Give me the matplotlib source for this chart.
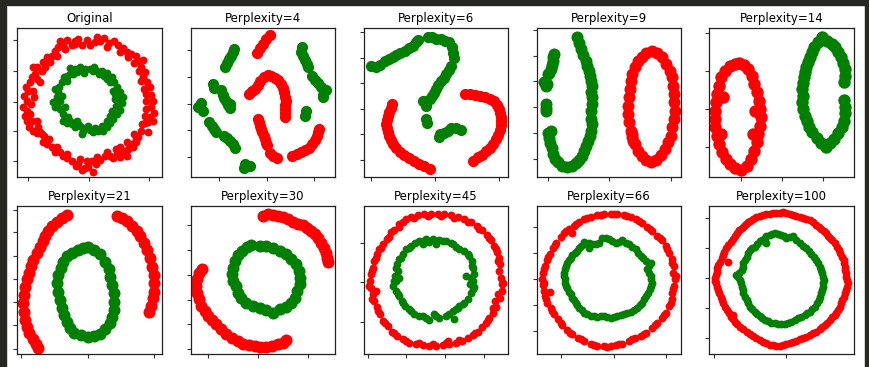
import matplotlib
matplotlib.use("Agg")
import matplotlib.pyplot as plt
from matplotlib.patches import Rectangle

titles = ["Original", "Perplexity=4", "Perplexity=6", "Perplexity=9", "Perplexity=14",
          "Perplexity=21", "Perplexity=30", "Perplexity=45", "Perplexity=66", "Perplexity=100"]

# points, one list per panel and class (x, y with y growing down)
orig_red = [(150,50),(172,48),(195,60),(205,46),(232,48),(240,62),(262,38),(270,50),(283,42),(298,58),
            (312,52),(325,62),(340,72),(352,85),(362,90),(378,95),(385,110),(400,108),(395,130),(405,145),
            (400,160),(412,175),(420,190),(410,210),(425,212),(430,232),(425,250),(432,268),(420,280),(415,295),
            (405,298),(395,320),(385,340),(378,355),(370,370),(355,375),(340,380),(330,370),(320,388),(330,400),
            (310,402),(300,395),(285,395),(270,408),(258,420),(245,412),(235,430),(225,432),(210,405),(198,425),
            (185,412),(172,402),(160,395),(150,385),(135,385),(125,370),(112,360),(100,355),(95,330),(80,328),
            (70,320),(58,310),(50,290),(45,275),(52,260),(40,250),(50,232),(42,215),(55,200),(48,190),
            (60,175),(65,160),(75,150),(70,130),(80,128),(95,140),(100,115),(110,100),(125,95),(135,80),
            (145,70),(160,65),(185,62),(80,290),(90,325),(102,335),(380,345),(365,360),(415,190),(72,220),
            (165,75),(215,62),(255,55),(290,68),(330,85),(355,100),(372,118),(388,140),(395,170),(402,195),
            (408,230),(410,255),(405,275),(398,300),(372,330),(352,355),(318,375),(290,385),(262,398),(232,410),
            (205,420),(170,390),(140,370),(118,345),(85,310),(65,290),(62,240),(68,200),(82,165),(105,130),
            (120,115),(140,95),(90,175),(60,270),(350,395),(415,325),(430,290),(215,438),(250,445),(195,50)]
orig_green = [(180,132),(195,135),(210,130),(225,135),(240,135),(252,128),(262,140),(275,140),(290,148),(305,160),
              (312,175),(320,190),(330,205),(340,220),(335,238),(325,245),(330,258),(320,270),(310,285),(300,298),
              (290,310),(280,320),(265,322),(250,325),(240,318),(225,312),(215,330),(210,305),(195,308),(185,300),
              (170,298),(160,290),(160,270),(150,255),(140,240),(130,235),(140,220),(135,195),(148,190),(155,175),
              (162,160),(170,155),(180,150),(200,145),(222,148),(268,150),(290,165),(310,200),(315,225),(318,245),
              (300,275),(275,305),(235,305),(200,290),(175,280),(165,250),(155,215),
              (190,150),(215,140),(248,142),(282,155),(300,175),(322,215),(325,230),(305,260),(290,290),(255,312),
              (220,322),(180,290),(165,285),(150,230),(145,205),(172,170),(205,300),(270,315),(315,210),(135,250)]

p4_red = [(268,45),(258,58),(248,72),(240,85),(230,98),
          (205,220),(215,212),(225,205),(232,195),(240,182),(250,170),(262,165),(272,167),(282,172),(292,178),
          (300,190),(306,202),(310,215),(314,228),(316,240),(314,252),(312,265),(312,278),(312,290),
          (232,295),(235,305),(238,315),(242,325),(246,335),(250,345),(253,355),(256,365),(260,372),
          (268,395),(278,405),(290,412),
          (335,405),(348,398),(360,392),(372,387),(385,380),(395,370),(402,358),(408,345),(412,335),(415,326)]
p4_green = [(162,87),(157,96),(152,106),(146,116),(140,128),(135,140),
            (98,190),(102,202),
            (122,210),(128,222),(133,232),(138,242),(145,252),(150,262),(150,250),
            (62,248),(55,258),(68,270),
            (88,305),(95,315),(102,325),(108,335),
            (132,345),(142,352),(150,360),(158,370),(165,382),
            (195,428),(190,440),(210,435),
            (365,82),(360,96),(366,106),(372,118),(378,130),(382,140),
            (395,168),(402,180),(410,188),(420,200),(435,208),(425,222),(425,230),
            (375,270),(372,285)]

p6_red = [(108,240),(103,252),(99,264),(95,276),(91,288),(89,300),(91,312),(95,324),(99,336),(104,348),
          (111,360),(120,372),(131,383),(144,393),(158,403),(173,412),(188,419),(204,425),(220,435),
          (325,210),(340,210),(355,212),(370,215),(385,220),(400,225),(412,232),(422,242),(428,254),(432,266),
          (434,280),(435,292),(434,304),(430,318),(425,332),(418,346),(409,360),(400,372),(390,382),(378,392),
          (365,400),(350,410)]
p6_green = [(45,125),(58,130),(70,122),(85,112),(98,105),(110,100),(120,92),(132,88),(145,80),(158,72),
            (170,65),(178,55),(185,48),
            (215,40),(228,38),(240,45),(255,45),(265,50),(278,55),(286,70),(290,88),(292,102),
            (285,125),(278,138),(270,150),(262,162),(254,172),(246,182),(240,194),(234,206),(228,216),(220,226),
            (212,232),(200,232),(210,245),
            (210,285),(212,298),
            (248,340),(252,330),(262,328),(275,320),(285,312),(298,312),(315,318)]

p9_red = [(368,82),(385,88),(400,100),(412,120),(422,140),(428,160),(432,185),(435,210),(436,235),(437,260),
          (435,285),(430,310),(425,335),(418,355),(408,375),(395,392),(380,408),(365,415),(350,408),(338,395),
          (328,380),(318,360),(310,340),(305,320),(300,295),(298,270),(298,245),(300,220),(302,195),(305,170),
          (310,150),(318,130),(328,112),(340,98),(352,88),(308,330),(312,352)]
p9_green = [(75,90),(73,100),(71,110),(69,122),(65,134),(60,146),(58,150),
            (45,175),(50,185),(55,180),
            (50,240),(50,252),(50,262),
            (145,40),(150,58),(156,76),(162,94),(170,110),(175,125),(180,140),(184,155),(186,170),(190,185),
            (185,205),(190,220),(188,240),(185,260),(185,285),(188,300),(185,320),(182,335),(178,350),(172,365),
            (165,380),(158,395),(150,408),(140,418),(128,426),(115,430),(100,425),(88,415),(78,405),(72,390),
            (68,372),(64,358),(60,342),(56,328),(65,322)]

p14_red = [(110,118),(125,122),(140,135),(150,155),(158,180),(165,205),(172,230),(176,255),(178,280),(175,305),
           (170,330),(165,355),(158,380),(148,405),(135,425),(118,438),(100,432),(85,420),(72,405),(60,385),
           (52,360),(45,335),(40,310),(38,285),(40,260),(42,235),(45,210),(50,185),(58,160),(70,140),
           (85,125),(98,120),(160,260),(155,330),(58,330),(62,220)]
p14_green = [(362,40),(348,55),(338,70),(330,85),(325,100),(318,115),(314,130),(310,145),(306,160),(303,178),
             (302,195),(305,215),(302,235),(304,255),(310,275),(315,292),(322,308),(332,325),(345,342),(358,358),
             (372,368),(385,358),(398,345),(410,328),(420,310),(428,290),(432,268),(430,248),(428,228),
             (375,52),(390,60),(400,70),(410,84),(418,100),(425,118),(432,135),(430,155),(428,175)]

p21_red = [(200,105),(185,115),(170,128),(155,140),(145,155),(135,170),(128,185),(120,200),(110,220),(100,240),
           (92,258),(86,278),(80,298),(75,320),(72,345),(70,370),(72,395),(75,420),(80,440),(88,460),
           (98,478),(108,492),(115,502),
           (350,108),(365,115),(380,125),(395,138),(410,155),(420,170),(430,190),(440,210),(448,235),(455,260),
           (460,285),(462,310),(460,335),(458,355),(452,378),(445,395)]
p21_green = [(262,200),(280,210),(300,222),(315,245),(325,268),(330,290),(335,315),(340,340),(342,365),(340,390),
             (335,410),(328,430),(315,448),(300,462),(282,468),(262,470),(242,465),(222,458),(210,445),(200,425),
             (192,405),(185,385),(180,360),(175,335),(172,310),(175,285),(182,265),(188,245),(200,228),(215,218),
             (232,210),(248,205)]

p30_red = [(240,45),(255,40),(270,42),(285,45),(300,48),(315,55),(330,62),(345,68),(360,72),(372,80),
           (385,90),(395,100),(405,112),(415,125),(422,140),(428,155),(432,172),(435,182),
           (58,205),(48,215),(42,235),(40,255),(42,275),(48,295),(55,315),(65,330),(75,345),(88,358),
           (100,370),(115,385),(130,398),(148,410),(165,420),(180,428),(198,432),(215,435),(232,438),(250,438),
           (268,435),(285,430),(300,425),(308,418)]
p30_green = [(205,133),(230,135),(250,135),(270,140),(290,150),(310,160),(325,175),(340,190),(348,210),(352,230),
             (350,250),(342,270),(335,290),(325,305),(310,318),(290,325),(270,335),(250,328),(230,322),(210,315),
             (190,305),(175,290),(165,275),(158,255),(150,240),(148,220),(150,200),(155,180),(165,162),(178,150),
             (192,138)]

p45_red = [(130,70),(150,55),(165,48),(185,42),(205,38),(225,40),(245,38),(265,40),(285,42),(305,48),
           (325,55),(345,62),(362,75),(378,88),(392,102),(405,118),(415,135),(422,152),(428,170),(432,190),
           (430,210),(435,230),(438,250),(438,270),(432,290),(418,300),(420,318),(410,335),(400,350),(390,365),
           (378,378),(365,392),(350,402),(335,412),(318,420),(300,425),(280,428),(260,432),(240,435),(220,435),
           (200,432),(180,430),(160,425),(140,415),(122,405),(108,392),(95,375),(82,360),(72,340),(62,318),
           (55,300),(50,280),(45,260),(42,240),(45,220),(50,200),(55,180),(62,160),(70,145),(80,130),
           (92,115),(105,92),(115,88),(128,78),(60,270),(275,420),
           (140,62),(175,50),(215,45),(255,45),(295,50),(335,62),(370,85),(400,112),(420,145),(425,180),
           (440,245),(425,280),(412,320),(395,358),(358,395),(310,418),(270,425),(230,430),(190,425),(150,420),
           (115,395),(88,365),(66,330),(48,295),(40,255),(48,210),(60,170),(75,140),(98,108)]
p45_green = [(190,120),(210,115),(230,115),(250,118),(270,120),(290,130),(310,145),(325,150),(340,165),(348,180),
             (352,200),(355,220),(350,240),(355,258),(345,275),(335,295),(320,310),(305,320),(290,330),(295,355),
             (270,345),(250,350),(235,338),(220,358),(210,350),(190,345),(175,338),(160,325),(148,315),(138,300),
             (130,285),(120,270),(112,255),(120,240),(118,225),(125,210),(122,190),(128,175),(140,160),(150,145),
             (165,135),(178,125),(200,128),(240,128),(330,225),(130,230),
             (200,120),(260,120),(300,138),(335,160),(348,195),(345,230),(350,265),(325,305),(300,325),(280,340),
             (240,345),(200,345),(165,330),(140,305),(125,280),(115,240),(120,200),(135,170),(158,140),(220,122),
             (285,125),(343,250),(310,315)]

p66_red = [(105,95),(120,85),(135,75),(150,62),(165,55),(185,48),(205,42),(225,40),(245,38),(265,40),
           (285,42),(305,48),(320,55),(340,65),(355,78),(370,90),(385,105),(398,118),(410,135),(420,155),
           (428,175),(435,195),(432,215),(438,235),(435,255),(430,275),(428,295),(420,315),(410,335),(400,350),
           (385,365),(370,380),(352,395),(335,405),(318,412),(300,420),(280,428),(262,432),(245,435),(225,435),
           (205,435),(185,430),(165,420),(148,410),(130,400),(115,388),(100,372),(88,355),(75,340),(65,322),
           (55,305),(48,285),(45,270),(62,272),(42,252),(40,235),(42,215),(48,195),(55,178),(62,160),
           (72,140),(82,125),(95,108),(130,95),
           (110,90),(140,70),(175,52),(215,42),(255,40),(295,45),(330,60),(362,85),(392,112),(415,145),
           (430,185),(440,225),(432,265),(425,305),(405,342),(378,372),(345,398),(310,415),(270,430),(235,437),
           (195,432),(155,415),(122,395),(95,365),(70,330),(52,295),(45,245),(45,205),(58,168),(78,132)]
p66_green = [(165,122),(180,125),(200,130),(220,110),(240,115),(260,125),(280,118),(300,130),(320,145),(335,165),
             (350,180),(365,185),(355,205),(365,225),(368,245),(362,265),(350,285),(340,305),(325,320),(305,332),
             (285,340),(265,345),(245,350),(225,345),(205,348),(185,345),(165,335),(150,320),(140,305),(130,290),
             (120,272),(112,255),(108,235),(105,215),(110,195),(120,178),(130,162),(145,150),(155,135),(180,142),
             (170,130),(190,128),(210,125),(230,112),(250,120),(270,122),(290,125),(310,138),(328,155),(342,172),
             (360,195),(360,215),(366,235),(365,255),(356,275),(345,295),(332,312),(315,326),(295,336),(275,342),
             (255,348),(235,348),(215,346),(195,346),(175,340),(158,328),(145,312),(135,298),(125,280),(115,262),
             (108,245),(106,225),(108,205),(115,185),(125,170),(138,155),(150,142)]

p100_red = [(150,125),(170,112),(190,105),(210,102),(230,100),(250,98),(270,102),(290,108),(310,115),(330,122),
            (350,135),(365,148),(380,160),(392,175),(405,190),(418,210),(428,230),(435,250),(438,270),(440,290),
            (445,310),(440,330),(432,350),(425,370),(415,390),(405,405),(390,420),(375,435),(360,448),(340,460),
            (320,470),(300,478),(280,485),(260,492),(240,498),(220,495),(200,490),(180,480),(160,468),(140,455),
            (120,440),(105,425),(92,410),(80,390),(70,370),(62,350),(55,330),(48,310),(45,295),(50,275),
            (55,255),(65,235),(72,215),(85,195),(98,178),(112,160),(125,145),(138,132),(100,405),(85,245),
            (160,118),(180,108),(200,104),(220,101),(240,99),(260,100),(280,105),(300,112),(320,118),(340,128),
            (358,142),(372,154),(386,168),(398,182),(412,200),(422,220),(432,240),(436,260),(440,280),(442,300),
            (442,320),(436,340),(428,360),(420,380),(410,398),(398,412),(382,428),(368,442),(350,455),(330,465),
            (310,474),(290,482),(270,488),(250,495),(230,497),(210,493),(190,485),(170,474),(150,462),(130,448),
            (112,432),(98,418),(86,400),(75,380),(66,360),(58,340),(52,320),(46,302),(48,285),(52,265),
            (60,245),(68,225),(78,205),(92,186),(105,170),(118,152),(132,138),(145,128)]
p100_green = [(195,175),(210,165),(225,160),(245,165),(260,175),(280,170),(300,190),(320,205),(335,222),(350,240),
              (360,260),(368,280),(372,300),(370,320),(365,340),(358,360),(345,380),(330,395),(315,405),(295,415),
              (275,425),(255,432),(235,432),(215,428),(195,420),(180,408),(165,395),(152,380),(140,360),(130,340),
              (125,320),(120,300),(108,285),(125,270),(130,250),(140,232),(150,210),(165,200),(180,185),(200,190),
              (200,170),(218,162),(235,162),(252,170),(270,172),(290,180),(310,198),(328,214),(342,230),(355,250),
              (364,270),(370,290),(371,310),(368,330),(362,350),(352,370),(338,388),(322,400),(305,410),(285,420),
              (265,428),(245,432),(225,430),(205,424),(188,414),(172,402),(158,388),(146,370),(135,350),(128,330),
              (122,310),(115,292),(118,278),(128,260),(135,240),(145,220),(158,205),(172,192),(188,180)]

reds = [orig_red, p4_red, p6_red, p9_red, p14_red, p21_red, p30_red, p45_red, p66_red, p100_red]
greens = [orig_green, p4_green, p6_green, p9_green, p14_green, p21_green, p30_green, p45_green, p66_green, p100_green]

# axis frame for each panel: xlim, ylim, xticks, yticks
frames = [
    ((22, 456), (458, 12), [55, 237, 418], [47, 140, 233, 322, 411]),
    ((32, 462), (466, 24), [118, 260, 400], [90, 170, 250, 328, 408]),
    ((22, 455), (457, 12), [44, 235, 427], [25, 101, 178, 255, 331, 407]),
    ((22, 456), (457, 12), [58, 240, 426], [18, 95, 172, 250, 327, 405]),
    ((22, 457), (457, 12), [118, 240, 363], [28, 141, 256, 370]),
    ((52, 484), (522, 78), [64, 262, 460], [90, 158, 228, 297, 366, 435, 505]),
    ((22, 456), (460, 14), [76, 226, 376], [72, 147, 222, 296, 370, 444]),
    ((22, 456), (460, 14), [35, 151, 268, 384], [125, 244, 364]),
    ((22, 456), (460, 14), [97, 254, 411], [78, 157, 235, 313, 391]),
    ((28, 463), (522, 78), [42, 260], [115, 205, 295, 385, 475]),
]
marker_sizes = [32, 65, 65, 75, 80, 75, 75, 32, 32, 32]

W, H = 869, 367
fig = plt.figure(figsize=(W / 100, H / 100), dpi=100)
fig.patch.set_facecolor("white")

# dark screenshot border
for (x0, y0, w, h) in [(0, 0, 6, H), (865, 0, 4, H), (0, 0, W, 5)]:
    fig.add_artist(Rectangle((x0 / W, 1 - (y0 + h) / H), w / W, h / H,
                             transform=fig.transFigure, color="#272822", zorder=0))

lefts = [17.3, 190.5, 363.5, 536.5, 709.3]
tops = [28, 205.7]
aw, ah = 144.5, 148.5

for i in range(10):
    r, c = divmod(i, 5)
    ax = fig.add_axes([lefts[c] / W, 1 - (tops[r] + ah) / H, aw / W, ah / H])
    rx, ry = zip(*reds[i])
    gx, gy = zip(*greens[i])
    ax.scatter(rx, ry, c="r", s=marker_sizes[i], linewidths=0)
    ax.scatter(gx, gy, c="g", s=marker_sizes[i], linewidths=0)
    xl, yl, xt, yt = frames[i]
    ax.set_xlim(*xl)
    ax.set_ylim(*yl)
    ax.set_xticks(xt)
    ax.set_yticks(yt)
    ax.set_xticklabels([])
    ax.set_yticklabels([])
    ax.tick_params(length=3, width=0.8, color="#333333")
    for sp in ax.spines.values():
        sp.set_color("#222222")
        sp.set_linewidth(0.9)
    ax.set_title(titles[i], fontsize=8.5, pad=4)

fig.savefig("out.png", dpi=100)
